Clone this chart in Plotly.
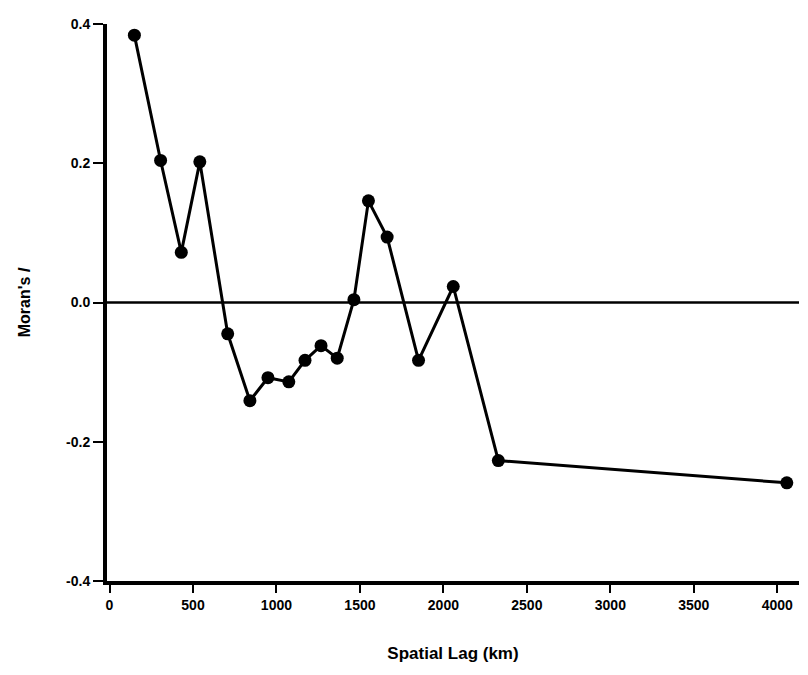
import plotly.graph_objects as go

# Moran's I correlogram across spatial distance classes
lag_km = [149, 306, 430, 541, 708, 841, 949, 1074, 1171, 1267, 1364,
          1464, 1551, 1663, 1851, 2059, 2329, 4057]
morans_i = [0.384, 0.204, 0.072, 0.202, -0.045, -0.141, -0.108, -0.114,
            -0.083, -0.062, -0.080, 0.004, 0.146, 0.094, -0.083, 0.023,
            -0.227, -0.259]

x_ticks = [0, 500, 1000, 1500, 2000, 2500, 3000, 3500, 4000]
y_ticks = [-0.4, -0.2, 0.0, 0.2, 0.4]
y_tick_text = ["-0.4", "-0.2", "0.0", "0.2", "0.4"]

font_family = "Liberation Sans, Arial, sans-serif"

fig = go.Figure()

fig.add_trace(go.Scatter(
    x=lag_km, y=morans_i,
    mode="lines+markers",
    line=dict(color="black", width=3),
    marker=dict(color="black", size=13, symbol="circle"),
    showlegend=False,
))

# zero reference line
fig.add_hline(y=0, line=dict(color="black", width=2.5))

fig.update_layout(
    width=808, height=675,
    margin=dict(l=107, r=9, t=24, b=94),
    paper_bgcolor="white", plot_bgcolor="white",
    font=dict(family=font_family, color="black", size=14),
)

fig.update_xaxes(
    range=[-15, 4130],
    tickvals=x_ticks,
    ticktext=[str(v) for v in x_ticks],
    ticks="outside", ticklen=8, tickwidth=2, tickcolor="black",
    showline=True, linecolor="black", linewidth=4,
    showgrid=False, zeroline=False,
    tickfont=dict(size=14, family=font_family, weight="bold"),
    title=dict(text="<b>Spatial Lag (km)</b>", font=dict(size=17), standoff=36),
)

fig.update_yaxes(
    range=[-0.4, 0.4],
    tickvals=y_ticks,
    ticktext=y_tick_text,
    ticks="outside", ticklen=10, tickwidth=2, tickcolor="black",
    showline=True, linecolor="black", linewidth=4,
    showgrid=False, zeroline=False,
    tickfont=dict(size=14, family=font_family, weight="bold"),
    title=dict(text="<b>Moran's <i>I</i></b>", font=dict(size=16), standoff=32),
)

fig.write_html("out.html")
